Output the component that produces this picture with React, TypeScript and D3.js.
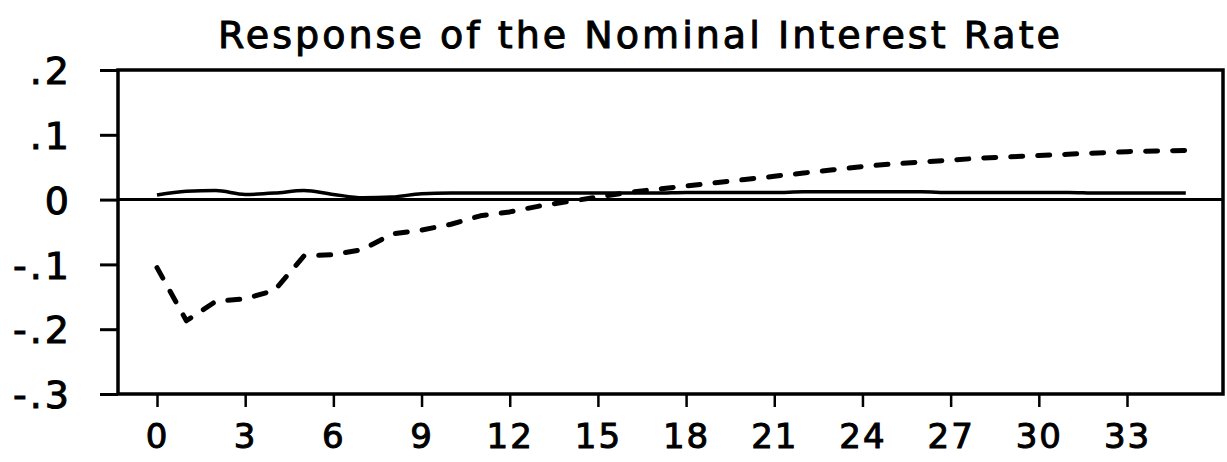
import React, { useEffect, useRef } from 'react';
import * as d3 from 'd3';

// Quarters after the shock
const periods: number[] = [
  0, 1, 2, 3, 4, 5, 6, 7, 8, 9, 10, 11, 12, 13, 14, 15, 16, 17,
  18, 19, 20, 21, 22, 23, 24, 25, 26, 27, 28, 29, 30, 31, 32, 33, 34, 35,
];

// Solid line (small positive response)
const solidValues: number[] = [
  0.007, 0.013, 0.014, 0.008, 0.010, 0.014, 0.008, 0.003, 0.004, 0.009,
  0.010, 0.010, 0.010, 0.010, 0.010, 0.010, 0.010, 0.010, 0.011, 0.011,
  0.011, 0.011, 0.012, 0.012, 0.012, 0.012, 0.012, 0.011, 0.011, 0.011,
  0.011, 0.011, 0.010, 0.010, 0.010, 0.010,
];

// Dashed line
const dashedValues: number[] = [
  -0.105, -0.187, -0.157, -0.153, -0.140, -0.087, -0.085, -0.077, -0.053, -0.047,
  -0.038, -0.025, -0.019, -0.010, -0.003, 0.004, 0.011, 0.016, 0.021, 0.026,
  0.031, 0.036, 0.041, 0.046, 0.051, 0.055, 0.058, 0.061, 0.064, 0.066,
  0.068, 0.070, 0.072, 0.074, 0.075, 0.076,
];

const xTicks: number[] = [0, 3, 6, 9, 12, 15, 18, 21, 24, 27, 30, 33];
const yTicks: number[] = [0.2, 0.1, 0, -0.1, -0.2, -0.3];
const yTickLabels: string[] = ['.2', '.1', '0', '-.1', '-.2', '-.3'];

const title = 'Response of the Nominal Interest Rate';

const App = () => {
  const svgRef = useRef<SVGSVGElement>(null);

  useEffect(() => {
    const width = 1227;
    const height = 462;
    // frame of the plot
    const left = 118;
    const right = 1223;
    const top = 70;
    const bottom = 394;
    const font = "'DejaVu Sans', sans-serif";

    const svg = d3.select(svgRef.current)
      .attr('width', width)
      .attr('height', height);
    svg.selectAll('*').remove();

    const xScale = d3.scaleLinear().domain([0, 33]).range([157, 1127]);
    const yScale = d3.scaleLinear().domain([-0.3, 0.2]).range([bottom, top]);

    const solid = periods.map((p, i) => ({ p, v: solidValues[i] }));
    const dashed = periods.map((p, i) => ({ p, v: dashedValues[i] }));

    // Title
    svg.append('text')
      .attr('x', 218)
      .attr('y', 48)
      .attr('font-family', font)
      .attr('font-size', 38)
      .attr('textLength', 842)
      .attr('lengthAdjust', 'spacing')
      .attr('fill', '#000')
      .attr('stroke', '#000')
      .attr('stroke-width', 1)
      .text(title);

    // Y axis (ticks point outward, labels on the left)
    const yAxis = svg.append('g')
      .attr('transform', `translate(${left},0)`)
      .call(
        d3.axisLeft(yScale)
          .tickValues(yTicks)
          .tickSize(18)
          .tickPadding(28)
          .tickFormat((d, i) => yTickLabels[i])
      );
    yAxis.select('.domain').remove();
    yAxis.selectAll('line').attr('stroke', '#000').attr('stroke-width', 3);
    yAxis.selectAll('text')
      .attr('font-family', font)
      .attr('font-size', 38)
      .attr('dy', '0.36em')
      .attr('letter-spacing', 3)
      .attr('fill', '#000')
      .attr('stroke', '#000')
      .attr('stroke-width', 1);

    // X axis
    const xAxis = svg.append('g')
      .attr('transform', `translate(0,${bottom})`)
      .call(
        d3.axisBottom(xScale)
          .tickValues(xTicks)
          .tickSize(13)
          .tickPadding(17)
          .tickFormat(d => String(d))
      );
    xAxis.select('.domain').remove();
    xAxis.selectAll('line').attr('stroke', '#000').attr('stroke-width', 2.5);
    xAxis.selectAll('text')
      .attr('font-family', font)
      .attr('font-size', 34)
      .attr('letter-spacing', 2)
      .attr('fill', '#000')
      .attr('stroke', '#000')
      .attr('stroke-width', 1);

    // Frame
    svg.append('rect')
      .attr('x', left)
      .attr('y', top)
      .attr('width', right - left)
      .attr('height', bottom - top)
      .attr('fill', 'none')
      .attr('stroke', '#000')
      .attr('stroke-width', 3.5);

    // Zero line
    svg.append('line')
      .attr('x1', left)
      .attr('x2', right)
      .attr('y1', yScale(0))
      .attr('y2', yScale(0))
      .attr('stroke', '#000')
      .attr('stroke-width', 3);

    const line = d3.line<{ p: number; v: number }>()
      .x(d => xScale(d.p))
      .y(d => yScale(d.v));

    svg.append('path')
      .datum(solid)
      .attr('fill', 'none')
      .attr('stroke', '#000')
      .attr('stroke-width', 3.5)
      .attr('stroke-linejoin', 'round')
      .attr('d', d3.line<{ p: number; v: number }>()
        .x(d => xScale(d.p))
        .y(d => yScale(d.v))
        .curve(d3.curveMonotoneX));

    svg.append('path')
      .datum(dashed)
      .attr('fill', 'none')
      .attr('stroke', '#000')
      .attr('stroke-width', 5)
      .attr('stroke-linecap', 'round')
      .attr('stroke-linejoin', 'round')
      .attr('stroke-dasharray', '12,15')
      .attr('d', line);
  }, []);

  return (
    <svg ref={svgRef} style={{ position: 'absolute', left: 0, top: 0, background: '#fff' }}></svg>
  );
};

export default App;
